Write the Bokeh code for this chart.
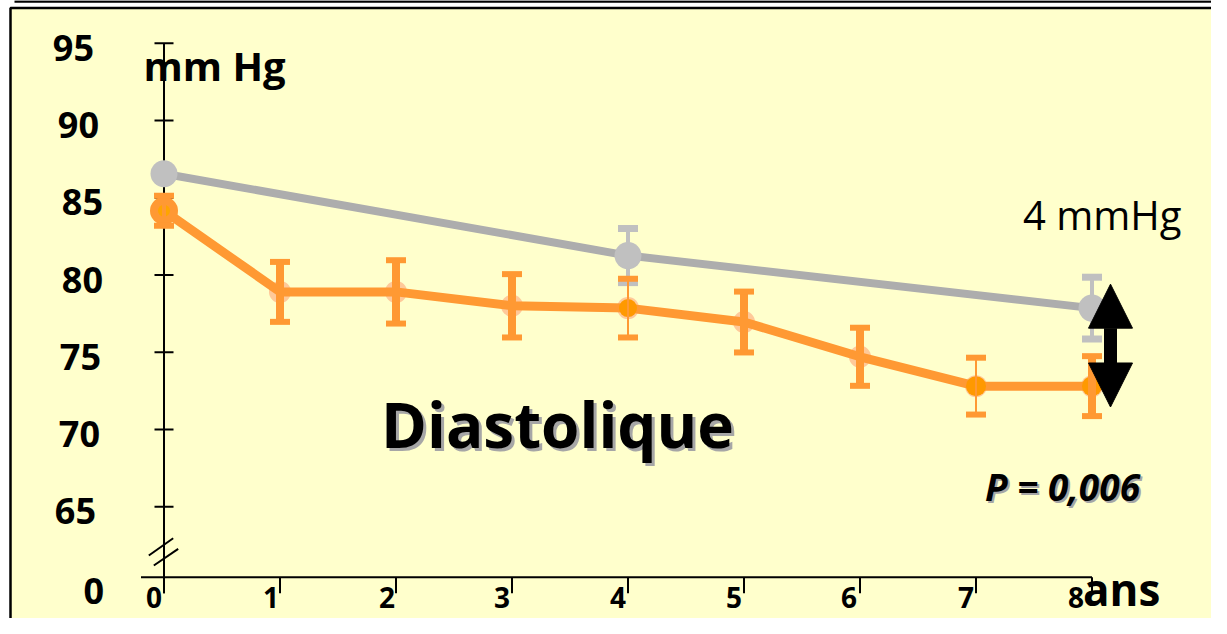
from bokeh.plotting import figure
from bokeh.models import Range1d, ColumnDataSource, Arrow, NormalHead
from bokeh.embed import file_html
from bokeh.resources import INLINE
from bokeh.core.properties import value

# ---------------- data ----------------
years = [0, 1, 2, 3, 4, 5, 6, 7, 8]
orange_vals = [84.15, 78.9, 78.9, 78.0, 77.85, 76.95, 74.7, 72.8, 72.8]
orange_err = [0.97, 1.94, 2.05, 2.05, 1.9, 1.97, 1.88, 1.84, 1.94]

gray_years = [0, 4, 8]
gray_vals = [86.55, 81.25, 77.85]
gray_err = [0.3, 1.75, 2.0]

y_ticks = [65, 70, 75, 80, 85, 90, 95]
y_tick_labels = ["65", "70", "75", "80", "85", "90", "95"]
x_ticks = [0, 1, 2, 3, 4, 5, 6, 7, 8]
x_tick_labels = ["0", "1", "2", "3", "4", "5", "6", "7", "8"]
y_break_label = "0"
y_unit = "mm Hg"
x_unit = "ans"
title_text = "Diastolique"
diff_text = "4 mmHg"
p_text = "P = 0,006"
arrow_span = [71.45, 79.4]   # ends of the double arrow (mm Hg)

# ---------------- layout / style ----------------
W, H = 1211, 618
PXX = 116.0          # px per year
PXY = 15.449         # px per mmHg
X0 = 163.5           # canvas px of year 0
Y80 = 274.4          # canvas px of 80 mmHg
AXIS_Y = 80 - (576.7 - Y80) / PXY   # value where the x axis line sits
BL = 0.34            # baseline correction (fraction of font size)


def dx(px):
    return (px - X0) / PXX


def dy(py):
    return 80 - (py - Y80) / PXY


def fix(fs):
    return -BL * fs


YELLOW = "#FFFFCC"
GRAY_LINE = "#ADADAD"
GRAY_MARK = "#C0C0C0"
ORANGE = "#FF9933"
ORANGE_DARK = "#FF9900"
PEACH = "#FFC999"
FONT = value("Open Sans")

p = figure(width=W, height=H, output_backend="svg", toolbar_location=None,
           x_axis_type=None, y_axis_type=None, title=None,
           x_range=Range1d(dx(0), dx(W)), y_range=Range1d(dy(H), dy(0)),
           min_border=0, min_border_left=0, min_border_right=0,
           min_border_top=0, min_border_bottom=0)
p.grid.visible = False
p.outline_line_color = None
p.background_fill_color = "white"
p.border_fill_color = "white"

# slide frame: thin rule on top, yellow panel with black border
p.segment(x0=[dx(14)], y0=[dy(1)], x1=[dx(W + 20)], y1=[dy(1)], line_color="black", line_width=2.5)
p.quad(left=[dx(10)], right=[dx(W + 20)], top=[dy(7.5)], bottom=[dy(624)],
       fill_color=YELLOW, line_color="black", line_width=2.5)

# ---- axes drawn at year 0 / axis line ----
tick_down = 16 / PXY
p.segment(x0=[dx(X0 - 23)], y0=[AXIS_Y], x1=[8], y1=[AXIS_Y], line_color="black", line_width=2)
p.segment(x0=[0], y0=[AXIS_Y - tick_down], x1=[0], y1=[95], line_color="black", line_width=2)
p.segment(x0=x_ticks, y0=[AXIS_Y] * len(x_ticks), x1=x_ticks,
          y1=[AXIS_Y - tick_down] * len(x_ticks), line_color="black", line_width=2)
p.scatter(x=[0] * len(y_ticks), y=y_ticks, marker="dash", size=19,
          line_color="black", line_width=2)
# axis break marks
p.segment(x0=[dx(148.3), dx(153.3)], y0=[dy(555), dy(565)],
          x1=[dx(172.7), dx(177.7)], y1=[dy(537.7), dy(548.3)],
          line_color="black", line_width=2)

# tick labels
ylab_dx = [-68, -64, -63, -61, -61, -65, -70]
p.text(x=[0] * len(y_ticks), y=y_ticks, text=y_tick_labels, x_offset=ylab_dx, y_offset=17 + fix(36),
       text_align="right", text_baseline="alphabetic", text_font=FONT,
       text_font_style="bold", text_font_size="36px", text_color="black")
p.text(x=[0], y=[AXIS_Y], text=[y_break_label], x_offset=-60, y_offset=26 + fix(36),
       text_align="right", text_baseline="alphabetic", text_font=FONT,
       text_font_style="bold", text_font_size="36px", text_color="black")
xlab_dx = [-10, -9, -9, -10, -10, -10, -11, -10, -16]
p.text(x=x_ticks, y=[AXIS_Y] * len(x_ticks), text=x_tick_labels, x_offset=xlab_dx,
       y_offset=30 + fix(28), text_align="center", text_baseline="alphabetic", text_font=FONT,
       text_font_style="bold", text_font_size="28px", text_color="black")

p.text(x=[dx(143)], y=[dy(78.3)], text=[y_unit], y_offset=fix(40), text_align="left",
       text_baseline="alphabetic", text_font=FONT, text_font_style="bold",
       text_font_size="40px", text_color="black")
p.text(x=[8], y=[AXIS_Y], text=[x_unit], x_offset=-9, y_offset=27 + fix(44), text_align="left",
       text_baseline="alphabetic", text_font=FONT, text_font_style="bold",
       text_font_size="44px", text_color="black")

# ---- gray series ----
g_lo = [v - e for v, e in zip(gray_vals, gray_err)]
g_hi = [v + e for v, e in zip(gray_vals, gray_err)]
p.line(gray_years, gray_vals, line_color=GRAY_LINE, line_width=8)
p.segment(x0=gray_years, y0=g_lo, x1=gray_years, y1=g_hi, line_color=GRAY_MARK, line_width=4)
p.scatter(x=gray_years + gray_years, y=g_lo + g_hi, marker="dash", size=20,
          line_color=GRAY_MARK, line_width=7)
p.scatter(gray_years, gray_vals, size=27, fill_color=GRAY_MARK, line_color=None)

# ---- orange series ----
o_lo = [v - e for v, e in zip(orange_vals, orange_err)]
o_hi = [v + e for v, e in zip(orange_vals, orange_err)]
p.scatter(years, orange_vals, size=22, fill_color=PEACH, line_color=None)
p.line(years, orange_vals, line_color=ORANGE, line_width=9)
marker_fill = [ORANGE, None, None, None, ORANGE_DARK, None, None, ORANGE_DARK, ORANGE_DARK]
marker_size = [28, 0, 0, 0, 18, 0, 0, 20, 20]
msrc = ColumnDataSource(dict(x=years, y=orange_vals, c=[c or ORANGE for c in marker_fill],
                             s=marker_size))
p.scatter(x="x", y="y", size="s", fill_color="c", line_color=None, source=msrc)
p.scatter(x=[years[0]], y=[orange_vals[0]], size=12, fill_color="#FFA500", line_color=None)
bsrc = ColumnDataSource(dict(x=years, lo=o_lo, hi=o_hi, w=[4, 8, 8, 8, 2, 8, 8, 2, 8]))
p.segment(x0="x", y0="lo", x1="x", y1="hi", line_color=ORANGE, line_width="w", source=bsrc)
p.scatter(x=years + years, y=o_lo + o_hi, marker="dash", size=20,
          line_color=ORANGE, line_width=6)

# ---- annotations ----
for off, col in ((3, "#A6A6A6"), (0, "black")):
    p.text(x=[dx(557)], y=[dy(445)], text=[title_text], x_offset=off, y_offset=off + fix(62),
           text_align="center", text_baseline="alphabetic", text_font=FONT,
           text_font_style="bold", text_font_size="62px", text_color=col)

p.text(x=[dx(1101.7)], y=[dy(228)], text=[diff_text], y_offset=fix(40), text_align="center",
       text_baseline="alphabetic", text_font=FONT, text_font_size="40px", text_color="black")

for off, col in ((2, "#A6A6A6"), (0, "black")):
    p.text(x=[dx(1062)], y=[dy(499)], text=[p_text], x_offset=off, y_offset=off + fix(37),
           text_align="center", text_baseline="alphabetic", text_font=FONT,
           text_font_style="bold italic", text_font_size="37px", text_color=col)

arrow_x = dx(1110)
p.add_layout(Arrow(x_start=arrow_x, y_start=arrow_span[0], x_end=arrow_x, y_end=arrow_span[1],
                   line_color="black", line_width=13,
                   start=NormalHead(size=44, fill_color="black", line_color="black"),
                   end=NormalHead(size=44, fill_color="black", line_color="black")))

open("out.html", "w").write(file_html(p, INLINE))
